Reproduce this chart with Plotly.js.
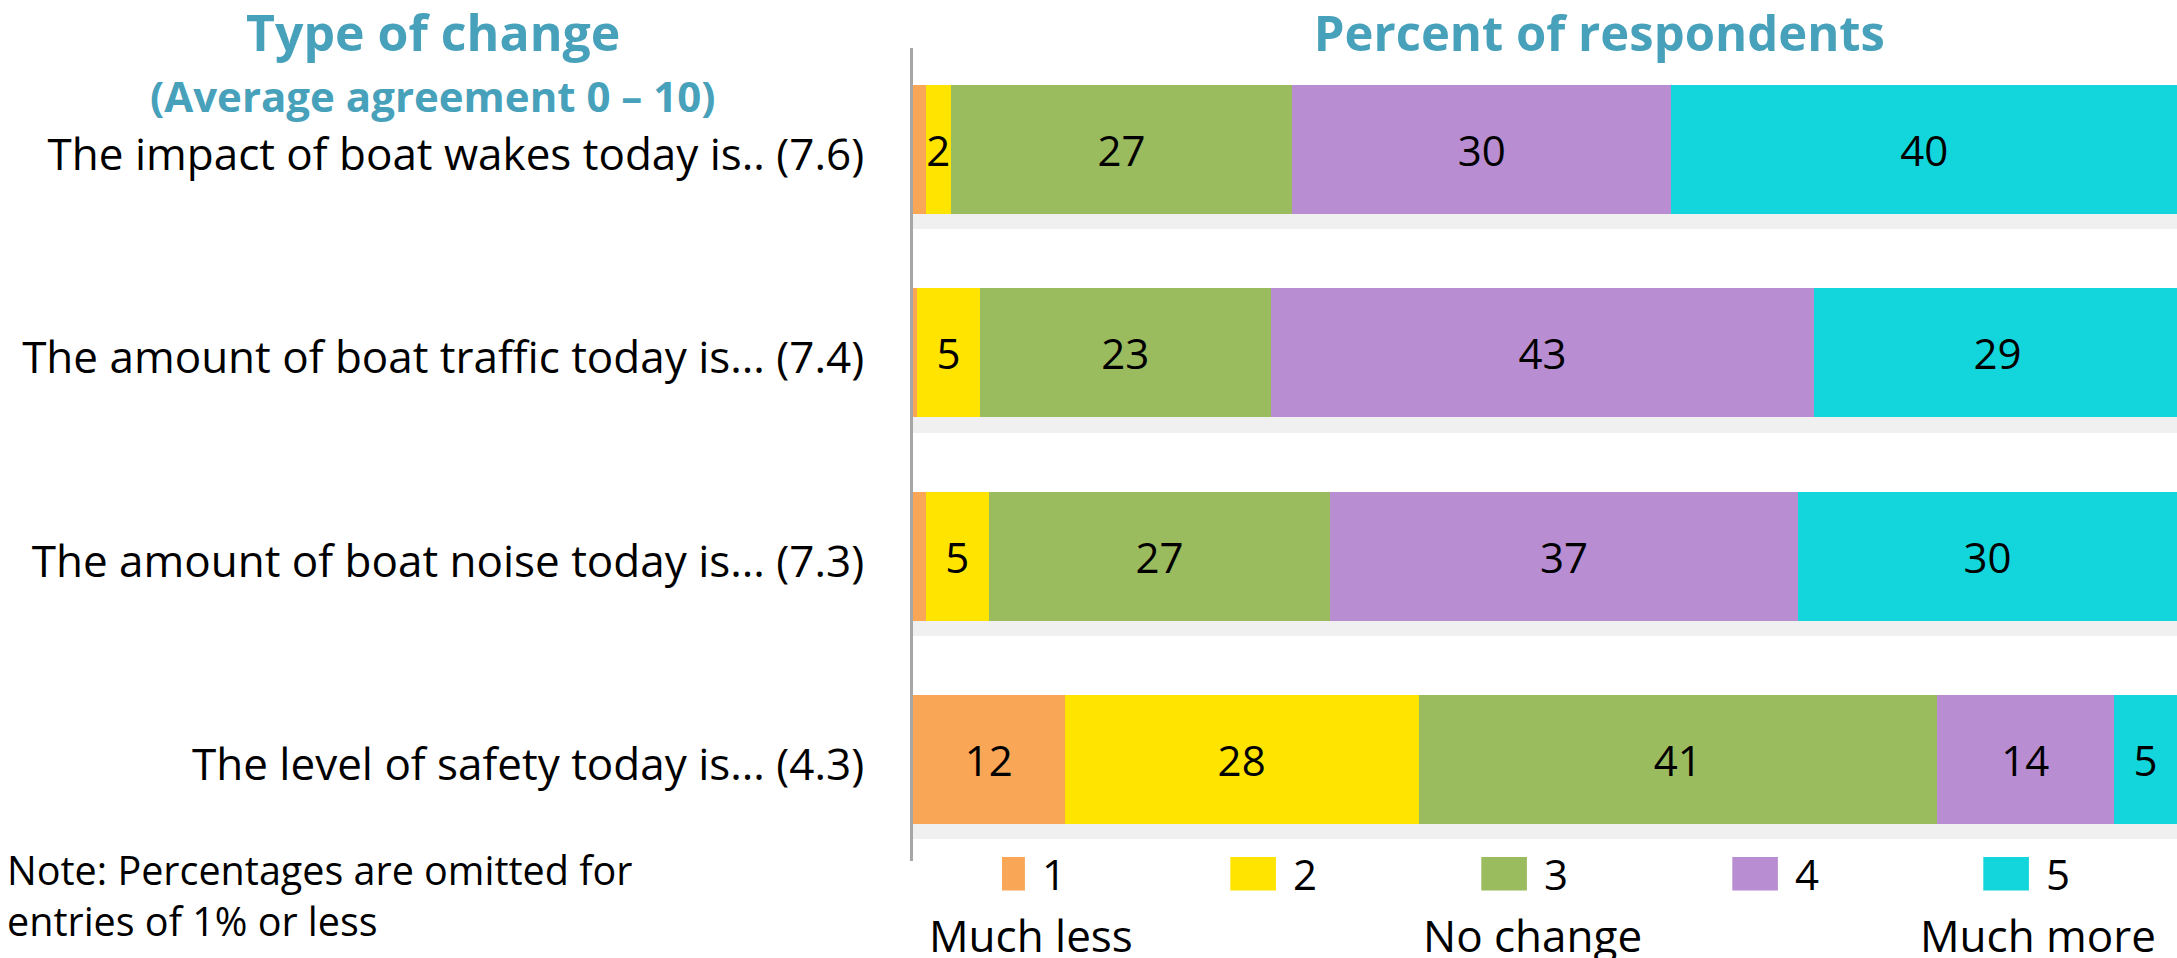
<!DOCTYPE html>
<html>
<head>
<meta charset="utf-8">
<script src="https://cdn.plot.ly/plotly-3.0.1.min.js"></script>
<style>
	html, body { margin: 0; padding: 0; background: #fff; }
	#plotDiv { width: 2177px; height: 958px; }
</style>
</head>
<body>
<div id="plotDiv"></div>
<script>
// Row labels (top to bottom)
const categories = [
	"The impact of boat wakes today is.. (7.6)",
	"The amount of boat traffic today is... (7.4)",
	"The amount of boat noise today is... (7.3)",
	"The level of safety today is... (4.3)",
];

// Response scale 1..5
const seriesNames = ["1", "2", "3", "4", "5"];
const seriesColors = ["#F9A656", "#FFE400", "#9BBB5F", "#B88DD2", "#12D6DB"];

// Percent of respondents per row, one array per answer
const much1 = [1, 0.3, 1, 12];
const much2 = [2, 5, 5, 28];
const much3 = [27, 23, 27, 41];
const much4 = [30, 43, 37, 14];
const much5 = [40, 29, 30, 5];
const seriesValues = [much1, much2, much3, much4, much5];

const scaleNotes = ["Much less", "No change", "Much more"];
const scaleNotePos = [9.3, 49, 89];

const fontFamily = "'Open Sans', sans-serif";
const teal = "#47A1BB";
const barWidth = 0.635;

// row totals, used for the drop shadow under each bar
const totals = categories.map((_, i) =>
	seriesValues.reduce((s, arr) => s + arr[i], 0)
);

function shadowTrace(shift, color) {
	return {
		type: "bar",
		orientation: "h",
		x: totals,
		y: categories,
		yaxis: "y",
		width: barWidth,
		offset: -barWidth / 2 + shift,
		marker: { color: color, line: { width: 0 } },
		hoverinfo: "skip",
		showlegend: false,
	};
}

const plotData = [
	shadowTrace(0.075, "rgba(0,0,0,0.06)"),
	shadowTrace(0.04, "rgba(0,0,0,0.24)"),
];

seriesNames.forEach((name, k) => {
	plotData.push({
		type: "bar",
		orientation: "h",
		name: name,
		x: seriesValues[k],
		y: categories,
		yaxis: "y2",
		width: barWidth,
		marker: { color: seriesColors[k], line: { width: 0 } },
		// percentages of 1% or less are not shown
		text: seriesValues[k].map((v) => (v > 1 ? String(v) : "")),
		textposition: "inside",
		insidetextanchor: "middle",
		textangle: 0,
		constraintext: "none",
		textfont: { family: fontFamily, size: 42, color: "#000" },
		hoverinfo: "x+name",
	});
});

const yCommon = {
	type: "category",
	categoryarray: categories,
	range: [3.5, -0.5],
	showgrid: false,
	zeroline: false,
	fixedrange: true,
};

const layout = {
	width: 2177,
	height: 958,
	margin: { l: 913, r: 0, t: 48, b: 97, autoexpand: false },
	paper_bgcolor: "#fff",
	plot_bgcolor: "#fff",
	barmode: "stack",
	bargap: 0,
	font: { family: fontFamily, color: "#000" },
	title: {
		text: "<b>Percent of respondents</b>",
		font: { family: fontFamily, size: 49, color: teal },
		xref: "paper",
		x: 0.543,
		xanchor: "center",
		yref: "container",
		y: 0.965,
		yanchor: "middle",
	},
	xaxis: {
		range: [0, 100],
		showgrid: false,
		zeroline: false,
		showticklabels: false,
		ticks: "",
		fixedrange: true,
	},
	yaxis: {
		...yCommon,
		showline: true,
		linecolor: "#A6A6A6",
		linewidth: 3,
		ticks: "",
		ticklabelstandoff: 37,
		ticklabelshift: -5,
		tickfont: { family: fontFamily, size: 44, color: "#000" },
	},
	yaxis2: {
		...yCommon,
		overlaying: "y",
		showticklabels: false,
		ticks: "",
	},
	showlegend: true,
	legend: {
		orientation: "h",
		traceorder: "normal",
		x: 0.0705,
		xanchor: "left",
		y: -0.016,
		yanchor: "middle",
		entrywidth: 206,
		entrywidthmode: "pixels",
		font: { family: fontFamily, size: 42, color: "#000" },
		bgcolor: "rgba(0,0,0,0)",
	},
	annotations: [
		{
			text: "<b>Type of change</b>",
			xref: "paper", yref: "paper",
			x: -0.38, y: 1.0197,
			xanchor: "center", yanchor: "middle",
			showarrow: false,
			font: { family: fontFamily, size: 50, color: teal },
		},
		{
			text: "<b>(Average agreement 0 – 10)</b>",
			xref: "paper", yref: "paper",
			x: -0.38, y: 0.942,
			xanchor: "center", yanchor: "middle",
			showarrow: false,
			font: { family: fontFamily, size: 42, color: teal },
		},
		{
			text: "Note: Percentages are omitted for<br>entries of 1% or less",
			xref: "paper", yref: "paper",
			x: -0.718, y: -0.043,
			xanchor: "left", yanchor: "middle",
			align: "left",
			showarrow: false,
			font: { family: fontFamily, size: 39.5, color: "#000" },
		},
		...scaleNotes.map((t, i) => ({
			text: t,
			xref: "x", yref: "paper",
			x: scaleNotePos[i],
			y: -0.091,
			xanchor: "center", yanchor: "middle",
			showarrow: false,
			font: { family: fontFamily, size: 44, color: "#000" },
		})),
	],
};

Plotly.newPlot("plotDiv", plotData, layout, { staticPlot: true }).then(function () {
	// the legend swatches in the reference are much larger than Plotly's default squares
	document.querySelectorAll("#plotDiv .legendpoints path").forEach((p) => {
		p.setAttribute("transform", "scale(3.8,2.8)");
	});
});
</script>
</body>
</html>
